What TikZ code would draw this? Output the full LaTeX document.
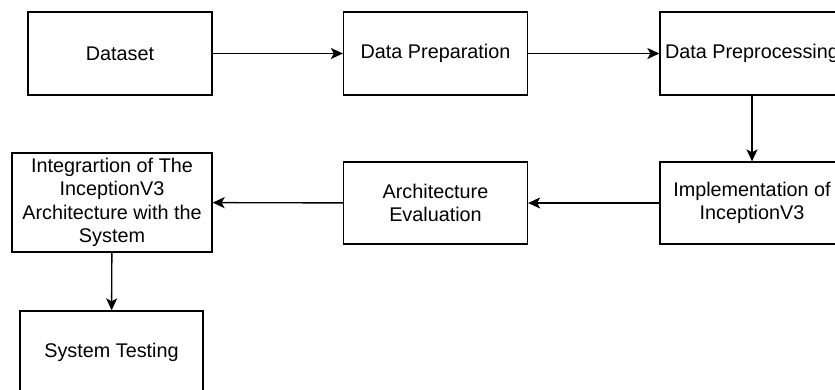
\documentclass[tikz,border=0pt]{standalone}
\usepackage{fontspec}
\setmainfont{Liberation Sans}
\usetikzlibrary{arrows.meta}

\begin{document}
\begin{tikzpicture}[x=1pt,y=-1pt]
\tikzset{font=\fontsize{19.8}{23.5}\selectfont}
\tikzset{stage/.style={draw, line width=1.3pt, minimum width=184pt, minimum height=83pt, align=center, inner sep=0pt}}
\tikzset{flow/.style={draw, line width=1.4pt, -{Stealth[length=12pt,width=11pt,inset=3pt]}}}
\useasboundingbox (0,0) rectangle (835,389);
\node[stage] (dataset) at (120,53.5) {Dataset};
\node[stage] (dataprep) at (435.5,53.5) {Data Preparation};
\node[stage] (preproc) at (752,53.5) {Data Preprocessing};
\node[stage, minimum height=82pt] (implement) at (752,203) {Implementation of\\InceptionV3};
\node[stage, minimum height=82pt] (archeval) at (435.5,203) {Architecture\\Evaluation};
\node[stage, minimum width=200pt, minimum height=99pt] (integrate) at (112,202.5) {Integrartion of The\\InceptionV3\\Architecture with the\\System};
\node[stage, minimum width=183pt, minimum height=82pt] (systest) at (111.5,352) {System Testing};
\draw[flow] (dataset) -- (dataprep);
\draw[flow] (dataprep) -- (preproc);
\draw[flow] (preproc) -- (implement);
\draw[flow] (implement) -- (archeval);
\draw[flow] (archeval) -- (integrate);
\draw[flow] (integrate) -- (systest);
\end{tikzpicture}
\end{document}
